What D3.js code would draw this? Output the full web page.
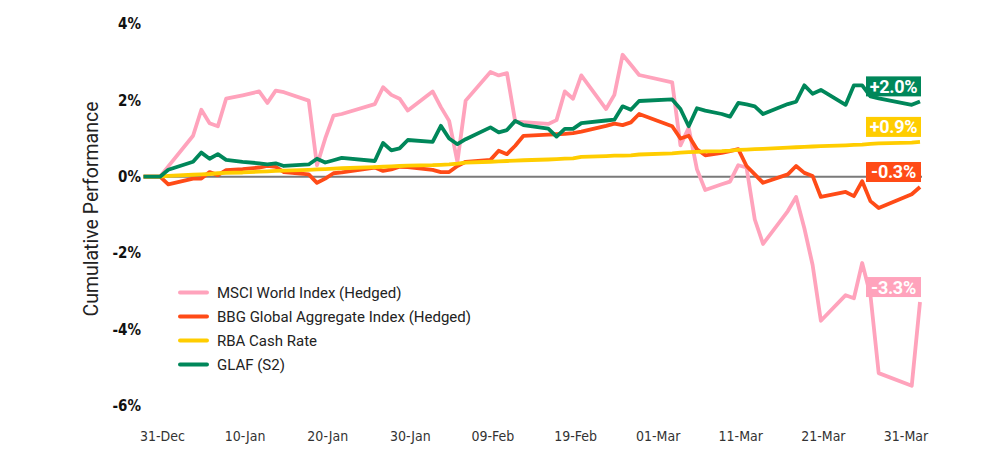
<!DOCTYPE html>
<html>
<head>
<meta charset="utf-8">
<script src="https://cdn.jsdelivr.net/npm/d3@7"></script>
<style>
  body { margin: 0; background: #fff; }
  svg { display: block; font-family: Roboto, "Liberation Sans", sans-serif; }
  .x.axis text { font-family: "Liberation Sans Narrow", "DejaVu Sans Condensed", sans-serif; font-size: 14px; fill: #333; }
  .y.axis text { font-family: "Liberation Sans Narrow", "DejaVu Sans Condensed", sans-serif; font-size: 15px; font-weight: bold; fill: #111; }
  .legend text { font-size: 15px; fill: #222; }
  .endlabel text { font-size: 18px; font-weight: bold; fill: #fff; letter-spacing: -0.3px; }
</style>
</head>
<body>
<svg id="chart" width="1000" height="460"></svg>
<script>
//
// DATA
//
var dates = [
  "2020-12-29","2020-12-31","2021-01-01",
  "2021-01-04","2021-01-05","2021-01-06","2021-01-07","2021-01-08",
  "2021-01-10",
  "2021-01-12","2021-01-13","2021-01-14","2021-01-15",
  "2021-01-18","2021-01-19","2021-01-20","2021-01-21","2021-01-22",
  "2021-01-26","2021-01-27","2021-01-28","2021-01-29","2021-01-30",
  "2021-02-02","2021-02-03","2021-02-04","2021-02-05","2021-02-06",
  "2021-02-09","2021-02-10","2021-02-11","2021-02-12","2021-02-13",
  "2021-02-16","2021-02-17","2021-02-18","2021-02-19","2021-02-20",
  "2021-02-23","2021-02-24","2021-02-25","2021-02-26","2021-02-27",
  "2021-03-03","2021-03-04","2021-03-05","2021-03-06","2021-03-07",
  "2021-03-09","2021-03-10","2021-03-11","2021-03-12","2021-03-13","2021-03-14",
  "2021-03-17","2021-03-18","2021-03-19","2021-03-20","2021-03-21",
  "2021-03-24","2021-03-25","2021-03-26","2021-03-27","2021-03-28",
  "2021-04-01","2021-04-02"
];

var msci = [
  0, 0, 0.27,
  1.07, 1.75, 1.40, 1.32, 2.04,
  2.13,
  2.23, 1.93, 2.25, 2.21,
  1.99, 0.30, 1.00, 1.60, 1.64,
  1.90, 2.34, 2.14, 2.04, 1.73,
  2.23, 1.82, 1.46, 0.39, 1.99,
  2.74, 2.65, 2.71, 1.44, 1.43,
  1.38, 1.48, 2.23, 2.04, 2.65,
  1.77, 2.14, 3.19, 2.93, 2.66,
  2.47, 0.82, 1.28, 0.19, -0.35,
  -0.20, -0.13, 0.30, 0.24, -1.12, -1.76,
  -0.90, -0.53, -1.35, -2.31, -3.77,
  -3.10, -3.18, -2.26, -3.10, -5.14,
  -5.47, -3.28
];

var bbg = [
  0, 0, -0.20,
  -0.05, -0.05, 0.12, 0.04, 0.17,
  0.20,
  0.24, 0.28, 0.26, 0.12,
  0.06, -0.16, -0.05, 0.09, 0.11,
  0.24, 0.15, 0.19, 0.26, 0.25,
  0.18, 0.12, 0.12, 0.28, 0.39,
  0.44, 0.68, 0.59, 0.81, 1.07,
  1.10, 1.11, 1.12, 1.14, 1.18,
  1.33, 1.39, 1.35, 1.42, 1.64,
  1.32, 1.00, 1.07, 0.72, 0.56,
  0.62, 0.67, 0.72, 0.28, 0.06, -0.16,
  0.06, 0.28, 0.10, 0.02, -0.53,
  -0.40, -0.51, -0.12, -0.64, -0.82,
  -0.46, -0.27
];

var rba = [
  0, 0, 0.02,
  0.05, 0.06, 0.07, 0.09, 0.10,
  0.11,
  0.13, 0.14, 0.15, 0.16,
  0.18, 0.19, 0.20, 0.21, 0.22,
  0.25, 0.26, 0.27, 0.28, 0.29,
  0.30, 0.31, 0.32, 0.34, 0.37,
  0.39, 0.40, 0.41, 0.42, 0.43,
  0.45, 0.46, 0.47, 0.48, 0.52,
  0.54, 0.55, 0.55, 0.56, 0.58,
  0.61, 0.63, 0.64, 0.65, 0.66,
  0.67, 0.68, 0.70, 0.71, 0.72, 0.73,
  0.76, 0.77, 0.78, 0.79, 0.80,
  0.82, 0.83, 0.84, 0.86, 0.87,
  0.89, 0.91
];

var glaf = [
  0, 0, 0.18,
  0.39, 0.63, 0.47, 0.59, 0.44,
  0.39,
  0.35, 0.32, 0.35, 0.28,
  0.32, 0.47, 0.37, 0.43, 0.49,
  0.41, 0.88, 0.69, 0.74, 0.96,
  0.91, 1.33, 1.00, 0.85, 0.98,
  1.29, 1.16, 1.22, 1.46, 1.35,
  1.26, 1.05, 1.25, 1.25, 1.40,
  1.47, 1.49, 1.84, 1.75, 1.98,
  2.02, 1.77, 1.32, 1.79, 1.73,
  1.64, 1.57, 1.93, 1.89, 1.84, 1.64,
  1.90, 1.96, 2.39, 2.17, 2.27,
  1.88, 2.39, 2.39, 2.10, 2.05,
  1.88, 1.97
];

var seriesNames = ["MSCI World Index (Hedged)", "BBG Global Aggregate Index (Hedged)", "RBA Cash Rate", "GLAF (S2)"];
var seriesColors = ["#ffa3bc", "#ff4b17", "#ffcd00", "#00875a"];
var xTicks = ["2020-12-31","2021-01-10","2021-01-20","2021-01-30","2021-02-09","2021-02-19","2021-03-01","2021-03-11","2021-03-21","2021-03-31"];
var yTicks = [4, 2, 0, -2, -4, -6];

var parseDate = d3.utcParse("%Y-%m-%d");
var days = dates.map(parseDate);
var series = [msci, bbg, rba, glaf].map(function (vals, i) {
  return {
    name: seriesNames[i],
    color: seriesColors[i],
    values: vals.map(function (v, j) { return {date: days[j], value: v}; })
  };
});

//
// SCALES
//
var x = d3.scaleUtc().domain(d3.extent(days)).range([143.5, 920]);
var y = d3.scaleLinear().domain([-6, 4]).range([406, 23.8]);

var svg = d3.select("#chart");

// y axis
var yAxis = d3.axisLeft(y)
  .tickValues(yTicks)
  .tickSize(0)
  .tickFormat(function (d) { return d + "%"; });

svg.append("g")
  .attr("class", "y axis")
  .attr("transform", "translate(141,0)")
  .call(yAxis)
  .call(function (g) { g.select(".domain").remove(); })
  .selectAll("text")
    .attr("x", 0);

// x axis
var xAxis = d3.axisBottom(x)
  .tickValues(xTicks.map(parseDate))
  .tickSize(0)
  .tickFormat(d3.utcFormat("%d-%b"));

svg.append("g")
  .attr("class", "x axis")
  .attr("transform", "translate(2,428)")
  .call(xAxis)
  .call(function (g) { g.select(".domain").remove(); });

// axis title
svg.append("text")
  .attr("transform", "translate(98,209) rotate(-90)")
  .attr("text-anchor", "middle")
  .style("font-size", "19.5px")
  .style("fill", "#222")
  .text("Cumulative Performance");

// zero line
svg.append("line")
  .attr("x1", x(days[0]) + 3)
  .attr("x2", x(days[days.length - 1]) + 2)
  .attr("y1", y(0))
  .attr("y2", y(0))
  .attr("stroke", "#7a7a7a")
  .attr("stroke-width", 2);

//
// LINES
//
var line = d3.line()
  .x(function (d) { return x(d.date); })
  .y(function (d) { return y(d.value); });

svg.selectAll(".series")
  .data(series)
  .enter().append("path")
  .attr("class", "series")
  .attr("d", function (d) { return line(d.values); })
  .attr("fill", "none")
  .attr("stroke", function (d) { return d.color; })
  .attr("stroke-width", 3.8)
  .attr("stroke-linejoin", "round");

//
// END LABELS
//
var boxW = 55, boxH = 20;
var endLabel = svg.selectAll(".endlabel")
  .data(series)
  .enter().append("g")
  .attr("class", "endlabel")
  .attr("transform", function (d) {
    var last = d.values[d.values.length - 1];
    return "translate(" + (x(last.date) + 1 - boxW) + "," + (y(last.value) - 15 - boxH / 2) + ")";
  });

endLabel.append("rect")
  .attr("width", boxW)
  .attr("height", boxH)
  .attr("fill", function (d) { return d.color; });

endLabel.append("text")
  .attr("x", boxW / 2)
  .attr("y", boxH / 2)
  .attr("dy", "0.36em")
  .attr("text-anchor", "middle")
  .text(function (d) {
    var v = d.values[d.values.length - 1].value;
    return (v < 0 ? "-" : "+") + Math.abs(v).toFixed(1) + "%";
  });

//
// LEGEND
//
var legend = svg.selectAll(".legend")
  .data(series)
  .enter().append("g")
  .attr("class", "legend")
  .attr("transform", function (d, i) { return "translate(180," + (292.5 + i * 24) + ")"; });

legend.append("line")
  .attr("x1", 0)
  .attr("x2", 27)
  .attr("stroke", function (d) { return d.color; })
  .attr("stroke-width", 4)
  .attr("stroke-linecap", "round");

legend.append("text")
  .attr("x", 37)
  .attr("dy", "0.35em")
  .text(function (d) { return d.name; });
</script>
</body>
</html>
